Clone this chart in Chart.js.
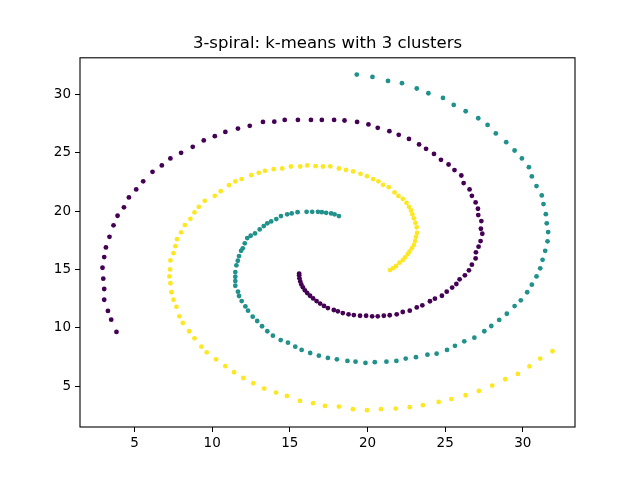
<!DOCTYPE html>
<html>
<head>
<meta charset="utf-8">
<script src="https://cdn.jsdelivr.net/npm/chart.js@4.4.1/dist/chart.umd.min.js"></script>
<style>
html,body{margin:0;padding:0;background:#fff;}
#wrap{width:640px;height:480px;}
</style>
</head>
<body>
<div id="wrap"><canvas id="c" width="640" height="480"></canvas></div>
<script>
const chartTitle = "3-spiral: k-means with 3 clusters";
const seriesColors = ["#440154", "#21918c", "#fde725"];
const xTicks = [5, 10, 15, 20, 25, 30];
const yTicks = [5, 10, 15, 20, 25, 30];

const cluster0 = [
[3.84,9.65],[3.5,10.7],[3.29,11.45],[3.05,12.41],[3.05,13.33],[2.99,14.21],[2.94,15.15],[3.05,16.06],
[3.16,16.89],[3.39,17.8],[3.65,18.78],[3.91,19.6],[4.32,20.32],[4.64,21.17],[5.11,21.86],[5.56,22.55],
[6.16,23.36],[6.76,23.91],[7.31,24.51],[8.0,24.99],[8.75,25.5],[9.46,26.05],[10.17,26.42],[10.85,26.78],
[11.66,27.07],[12.42,27.3],[13.27,27.64],[14.0,27.66],[14.67,27.81],[15.52,27.81],[16.36,27.81],[17.06,27.81],
[17.85,27.81],[18.52,27.76],[19.33,27.64],[20.06,27.42],[20.66,27.13],[21.41,26.84],[22.01,26.53],[22.67,26.18],
[23.32,25.71],[23.77,25.33],[24.28,24.9],[24.73,24.39],[25.22,23.99],[25.6,23.51],[26.04,23.05],[26.19,22.4],
[26.57,21.86],[26.72,21.31],[26.96,20.74],[27.11,20.2],[27.13,19.66],[27.33,19.15],[27.3,18.49],[27.39,18.06],
[27.28,17.43],[27.15,16.95],[26.98,16.47],[26.96,15.95],[26.72,15.41],[26.53,14.93],[26.27,14.5],[25.93,14.16],
[25.72,13.76],[25.45,13.45],[25.1,13.1],[24.79,12.75],[24.34,12.5],[24.02,12.28],[23.53,11.93],[23.17,11.75],
[22.72,11.47],[22.27,11.36],[21.88,11.16],[21.43,11.08],[21.05,11.04],[20.66,10.99],[20.3,10.99],[19.91,11.04],
[19.52,11.04],[19.12,11.1],[18.78,11.16],[18.41,11.27],[18.09,11.42],[17.83,11.53],[17.45,11.7],[17.2,11.88],
[16.95,12.08],[16.72,12.3],[16.5,12.52],[16.3,12.75],[16.12,12.98],[15.97,13.22],[15.84,13.47],[15.74,13.72],
[15.67,13.98],[15.62,14.24],[15.6,14.5],[15.6,14.65]
];

const cluster1 = [
[19.31,31.69],[20.32,31.49],[21.32,31.15],[22.22,30.95],[23.17,30.5],[23.92,30.09],[24.86,29.69],[25.55,29.09],
[26.32,28.55],[27.13,27.95],[27.73,27.38],[28.26,26.65],[28.93,25.9],[29.47,25.19],[29.94,24.51],[30.39,23.76],
[30.58,22.97],[30.88,22.14],[31.22,21.34],[31.33,20.6],[31.48,19.74],[31.54,18.95],[31.63,18.2],[31.59,17.41],
[31.44,16.6],[31.27,15.83],[31.12,15.1],[30.88,14.41],[30.58,13.7],[30.28,13.05],[29.87,12.36],[29.47,11.87],
[28.97,11.21],[28.48,10.68],[27.97,10.16],[27.52,9.71],[26.88,9.16],[26.23,8.85],[25.63,8.46],[25.12,8.11],
[24.45,7.79],[23.86,7.71],[23.12,7.49],[22.46,7.37],[21.86,7.17],[21.22,7.11],[20.47,7.06],[19.87,7.0],
[19.23,7.11],[18.71,7.17],[18.03,7.31],[17.45,7.43],[16.87,7.62],[16.31,7.85],[15.76,8.11],[15.35,8.39],
[14.88,8.73],[14.41,8.96],[13.91,9.33],[13.55,9.71],[13.21,10.14],[12.9,10.59],[12.61,10.96],[12.31,11.47],
[12.14,11.84],[11.9,12.3],[11.73,12.73],[11.66,13.1],[11.49,13.61],[11.49,14.01],[11.49,14.38],[11.49,14.78],
[11.56,15.36],[11.65,15.75],[11.73,16.15],[11.86,16.6],[11.97,16.81],[12.1,17.24],[12.26,17.69],[12.48,17.89],
[12.76,18.09],[13.06,18.43],[13.32,18.72],[13.55,18.95],[13.8,19.12],[14.13,19.32],[14.43,19.57],[14.83,19.72],
[15.12,19.8],[15.5,19.91],[16.08,19.94],[16.44,19.94],[16.81,19.94],[17.06,19.91],[17.34,19.85],[17.66,19.8],
[17.88,19.72],[18.16,19.57]
];

const cluster2 = [
[31.91,8.0],[31.12,7.37],[30.43,6.71],[29.68,6.06],[28.87,5.6],[28.03,5.06],[27.17,4.6],[26.32,4.23],
[25.4,3.9],[24.58,3.66],[23.57,3.38],[22.72,3.21],[21.82,3.09],[20.87,3.04],[19.97,2.95],[19.06,3.04],
[18.16,3.26],[17.26,3.32],[16.5,3.55],[15.65,3.75],[14.81,4.17],[14.11,4.46],[13.35,4.8],[12.65,5.26],
[12.01,5.71],[11.41,6.2],[10.85,6.72],[10.25,7.31],[9.65,7.91],[9.31,8.39],[8.86,9.11],[8.52,9.71],
[8.11,10.42],[7.89,10.99],[7.7,11.8],[7.51,12.41],[7.38,13.05],[7.31,13.82],[7.25,14.41],[7.29,15.01],
[7.31,15.78],[7.51,16.4],[7.63,17.0],[7.74,17.6],[8.0,18.18],[8.24,18.8],[8.6,19.34],[8.86,19.89],
[9.14,20.37],[9.52,20.88],[10.17,21.31],[10.55,21.71],[11.09,22.22],[11.49,22.54],[11.9,22.74],[12.52,23.08],
[13.0,23.28],[13.4,23.45],[13.96,23.59],[14.51,23.65],[15.07,23.82],[15.67,23.82],[16.12,23.91],[16.66,23.85],
[17.13,23.82],[17.6,23.83],[18.16,23.65],[18.62,23.53],[19.07,23.4],[19.55,23.19],[19.97,22.99],[20.36,22.74],
[20.7,22.55],[21.0,22.25],[21.37,22.05],[21.74,21.6],[21.99,21.3],[22.27,21.05],[22.51,20.71],[22.67,20.37],
[22.8,20.05],[22.89,19.72],[22.98,19.38],[23.09,19.0],[23.17,18.61],[23.19,18.14],[23.12,17.8],[23.06,17.43],
[22.98,17.09],[22.85,16.81],[22.7,16.52],[22.59,16.32],[22.42,16.04],[22.27,15.81],[22.06,15.58],[21.84,15.3],
[21.65,15.12],[21.45,14.95]
];

const clusters = [cluster0, cluster1, cluster2];

function range(idx) {
  let lo = Infinity, hi = -Infinity;
  clusters.forEach(c => c.forEach(p => { lo = Math.min(lo, p[idx]); hi = Math.max(hi, p[idx]); }));
  const m = (hi - lo) * 0.05;
  return [lo - m, hi + m];
}
const xr = range(0), yr = range(1);

const framePlugin = {
  id: 'frame',
  afterDraw(chart) {
    const a = chart.chartArea, ctx = chart.ctx;
    ctx.save();
    ctx.strokeStyle = '#000';
    ctx.lineWidth = 1.1;
    ctx.strokeRect(a.left, a.top, a.right - a.left, a.bottom - a.top);
    ctx.restore();
  }
};

const tickFont = { family: 'DejaVu Sans', size: 13.5 };

new Chart(document.getElementById('c'), {
  type: 'scatter',
  data: {
    datasets: clusters.map((c, i) => ({
      label: 'cluster ' + i,
      data: c.map(p => ({ x: p[0], y: p[1] })),
      backgroundColor: seriesColors[i],
      borderWidth: 0,
      pointRadius: 2.4,
      pointHoverRadius: 2.4
    }))
  },
  options: {
    responsive: false,
    animation: false,
    devicePixelRatio: 1,
    layout: { padding: { left: 0, right: 65, top: 0, bottom: 0 } },
    plugins: {
      legend: { display: false },
      tooltip: { enabled: false },
      title: {
        display: true,
        text: chartTitle,
        fullSize: false,
        color: '#000',
        font: { family: 'DejaVu Sans', size: 16.5, weight: 'normal' },
        padding: { top: 34, bottom: 4 }
      }
    },
    scales: {
      x: {
        type: 'linear',
        min: xr[0], max: xr[1],
        afterBuildTicks: ax => { ax.ticks = xTicks.map(v => ({ value: v })); },
        afterFit: ax => { ax.height = 53; },
        grid: { display: true, drawOnChartArea: false, drawTicks: true, tickLength: 5, color: '#000', lineWidth: 1 },
        border: { display: false },
        ticks: { color: '#000', font: tickFont, padding: 3, maxRotation: 0 }
      },
      y: {
        type: 'linear',
        min: yr[0], max: yr[1],
        afterBuildTicks: ax => { ax.ticks = yTicks.map(v => ({ value: v })); },
        afterFit: ax => { ax.width = 80; },
        grid: { display: true, drawOnChartArea: false, drawTicks: true, tickLength: 5, color: '#000', lineWidth: 1 },
        border: { display: false },
        ticks: { color: '#000', font: tickFont, padding: 4 }
      }
    }
  },
  plugins: [framePlugin]
});
</script>
</body>
</html>
